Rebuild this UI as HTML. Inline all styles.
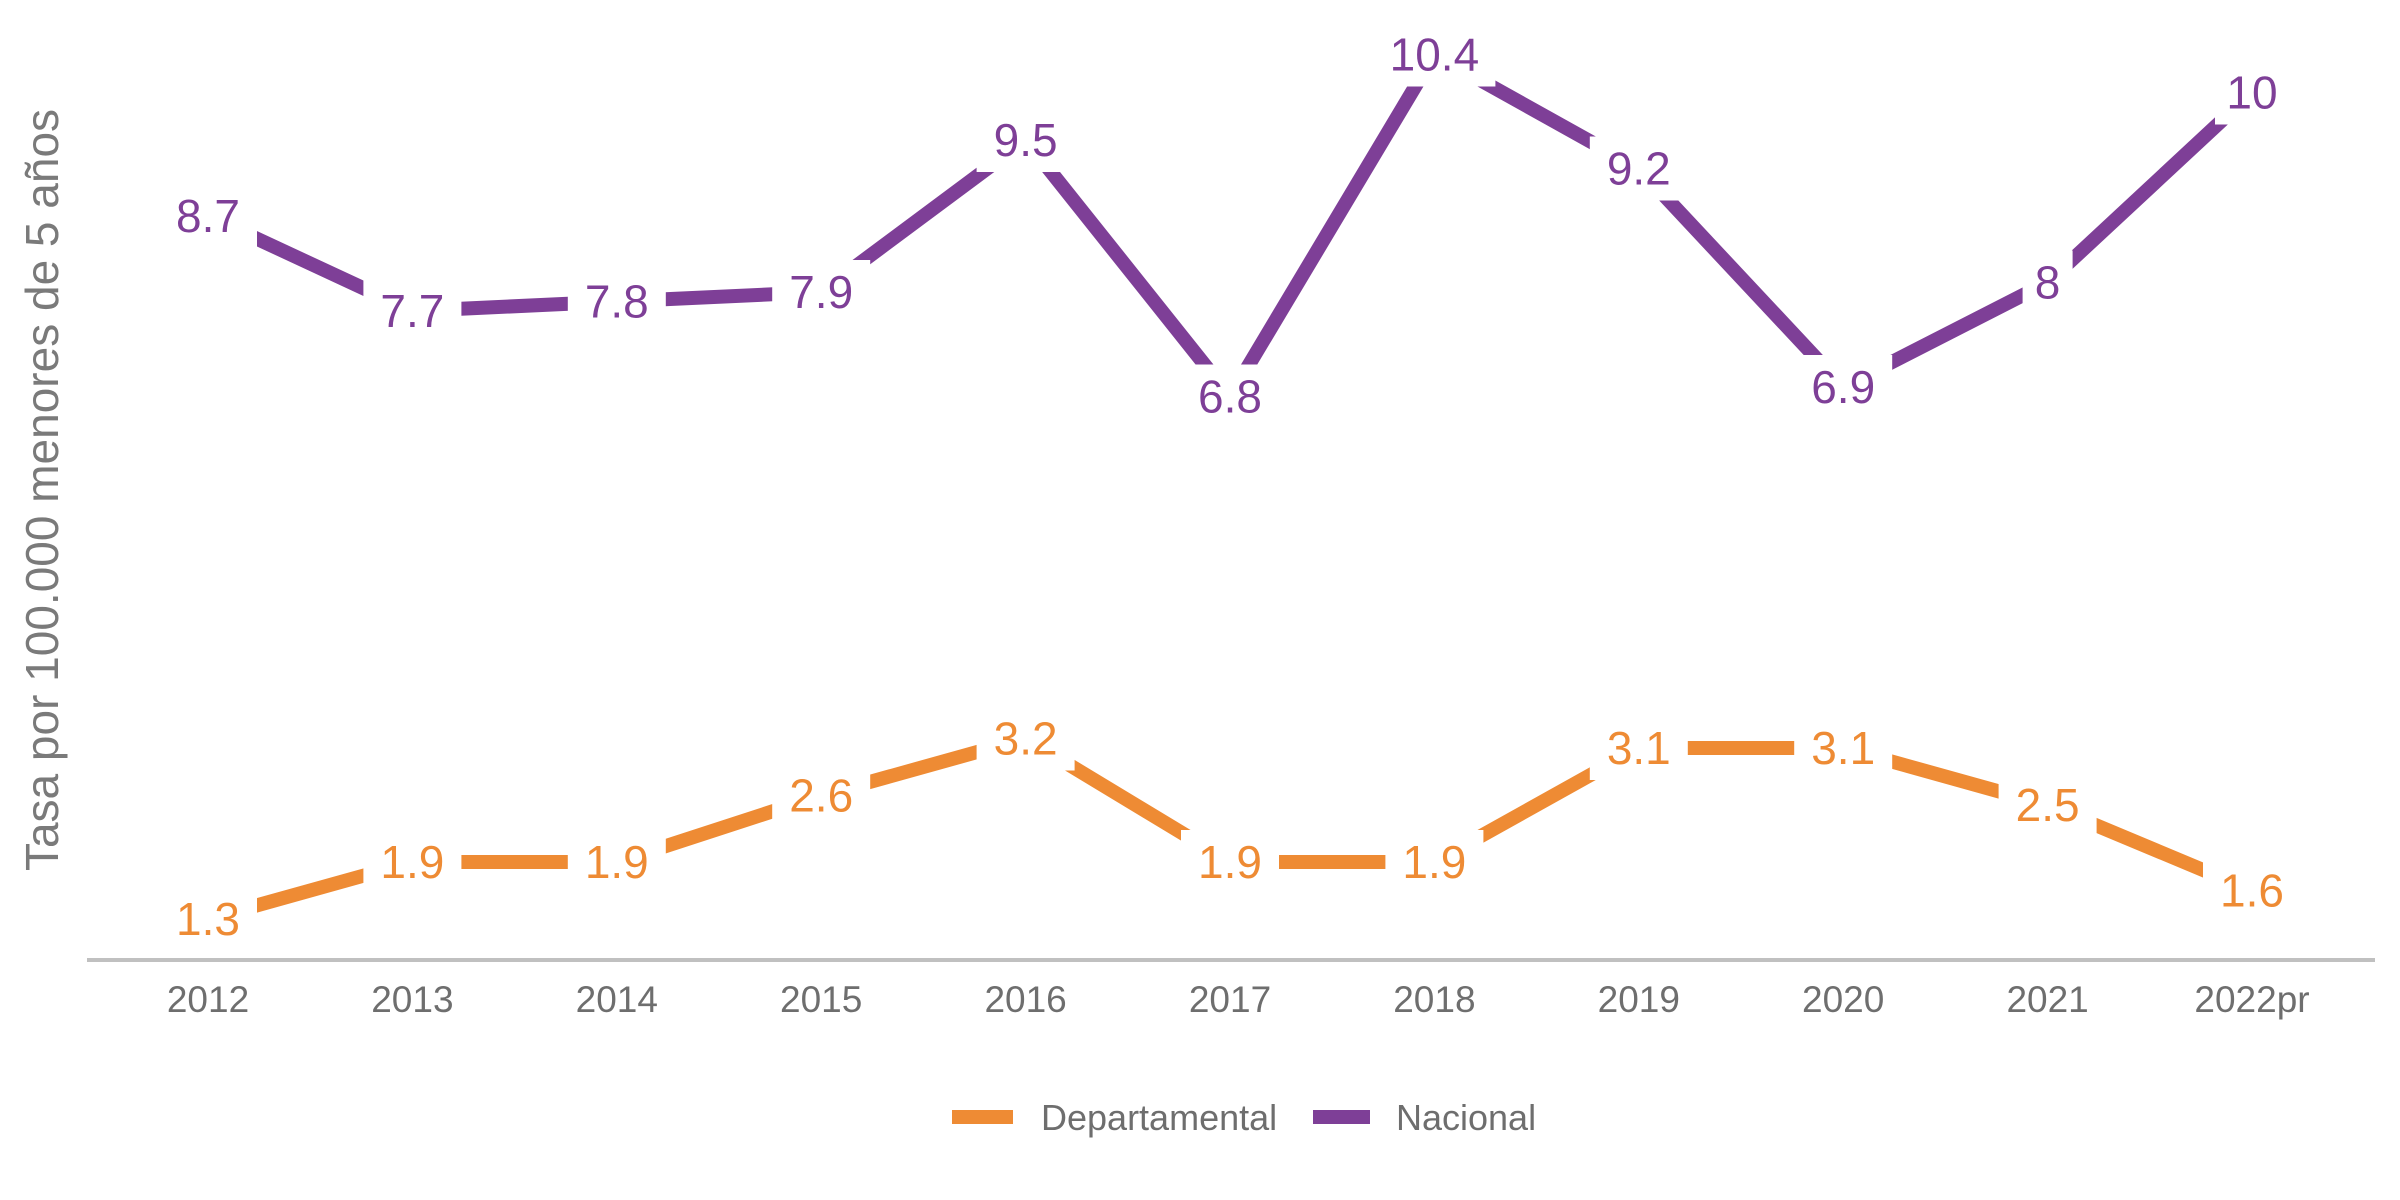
<!DOCTYPE html>
<html><head><meta charset="utf-8">
<style>
html,body{margin:0;padding:0;background:#fff;}
svg{display:block;font-family:"Liberation Sans",Arial,sans-serif;}
</style></head>
<body>
<svg id="chart" width="2400" height="1200" viewBox="0 0 2400 1200" xmlns="http://www.w3.org/2000/svg">
  <text transform="translate(58,490) rotate(-90)" text-anchor="middle" font-size="46" fill="#7a7a7a">Tasa por 100.000 menores de 5 años</text>
  <line x1="87" y1="960" x2="2375" y2="960" stroke="#c0c0c0" stroke-width="4"/>
  <g id="ticks"></g>
  <g id="series"></g>
  <g id="labels"></g>
  <g>
    <line x1="952" y1="1117" x2="1013" y2="1117" stroke="#EE8B34" stroke-width="14"/>
    <text x="1041" y="1130" font-size="36" fill="#6e6e6e">Departamental</text>
    <line x1="1313" y1="1117" x2="1370" y2="1117" stroke="#7E3F97" stroke-width="14"/>
    <text x="1396" y="1130" font-size="36" fill="#6e6e6e">Nacional</text>
  </g>
</svg>
<script>
const categories = ["2012","2013","2014","2015","2016","2017","2018","2019","2020","2021","2022pr"];
const departamental = [1.3,1.9,1.9,2.6,3.2,1.9,1.9,3.1,3.1,2.5,1.6];
const nacional = [8.7,7.7,7.8,7.9,9.5,6.8,10.4,9.2,6.9,8,10];
const depLabels = ["1.3","1.9","1.9","2.6","3.2","1.9","1.9","3.1","3.1","2.5","1.6"];
const nacLabels = ["8.7","7.7","7.8","7.9","9.5","6.8","10.4","9.2","6.9","8","10"];

const NS = "http://www.w3.org/2000/svg";
function xPos(i){ return 208 + i * 204.4; }
function yPos(v){ return 862 + (1.9 - v) * 95; }

const ticks = document.getElementById('ticks');
const seriesG = document.getElementById('series');
const labelsG = document.getElementById('labels');

categories.forEach((c,i)=>{
  const t = document.createElementNS(NS,'text');
  
  
  t.setAttribute('x', xPos(i));
  t.setAttribute('y', 1012);
  t.setAttribute('text-anchor','middle');
  t.setAttribute('font-size','37');
  t.setAttribute('fill','#6e6e6e');
  t.textContent = c;
  ticks.appendChild(t);
});

function drawSeries(vals, labels, color, name){
  const pts = vals.map((v,i)=>xPos(i)+','+yPos(v)).join(' ');
  const pl = document.createElementNS(NS,'polyline');
  
  
  pl.setAttribute('points', pts);
  pl.setAttribute('fill','none');
  pl.setAttribute('stroke',color);
  pl.setAttribute('stroke-width','14');
  pl.setAttribute('stroke-linejoin','miter');
  seriesG.appendChild(pl);
  vals.forEach((v,i)=>{
    const w = labels[i].length * 24 + 26;
    const r = document.createElementNS(NS,'rect');
    
    
    r.setAttribute('x', xPos(i) - w/2);
    r.setAttribute('y', yPos(v) - 32);
    r.setAttribute('width', w);
    r.setAttribute('height', 64);
    r.setAttribute('fill', '#fff');
    labelsG.appendChild(r);
    const t = document.createElementNS(NS,'text');
    
    
    t.setAttribute('x', xPos(i));
    t.setAttribute('y', yPos(v) + 16);
    t.setAttribute('text-anchor','middle');
    t.setAttribute('font-size','46');
    t.setAttribute('fill',color);
    t.textContent = labels[i];
    labelsG.appendChild(t);
  });
}
drawSeries(departamental, depLabels, '#EE8B34', 'departamental');
drawSeries(nacional, nacLabels, '#7E3F97', 'nacional');
</script>
</body></html>
